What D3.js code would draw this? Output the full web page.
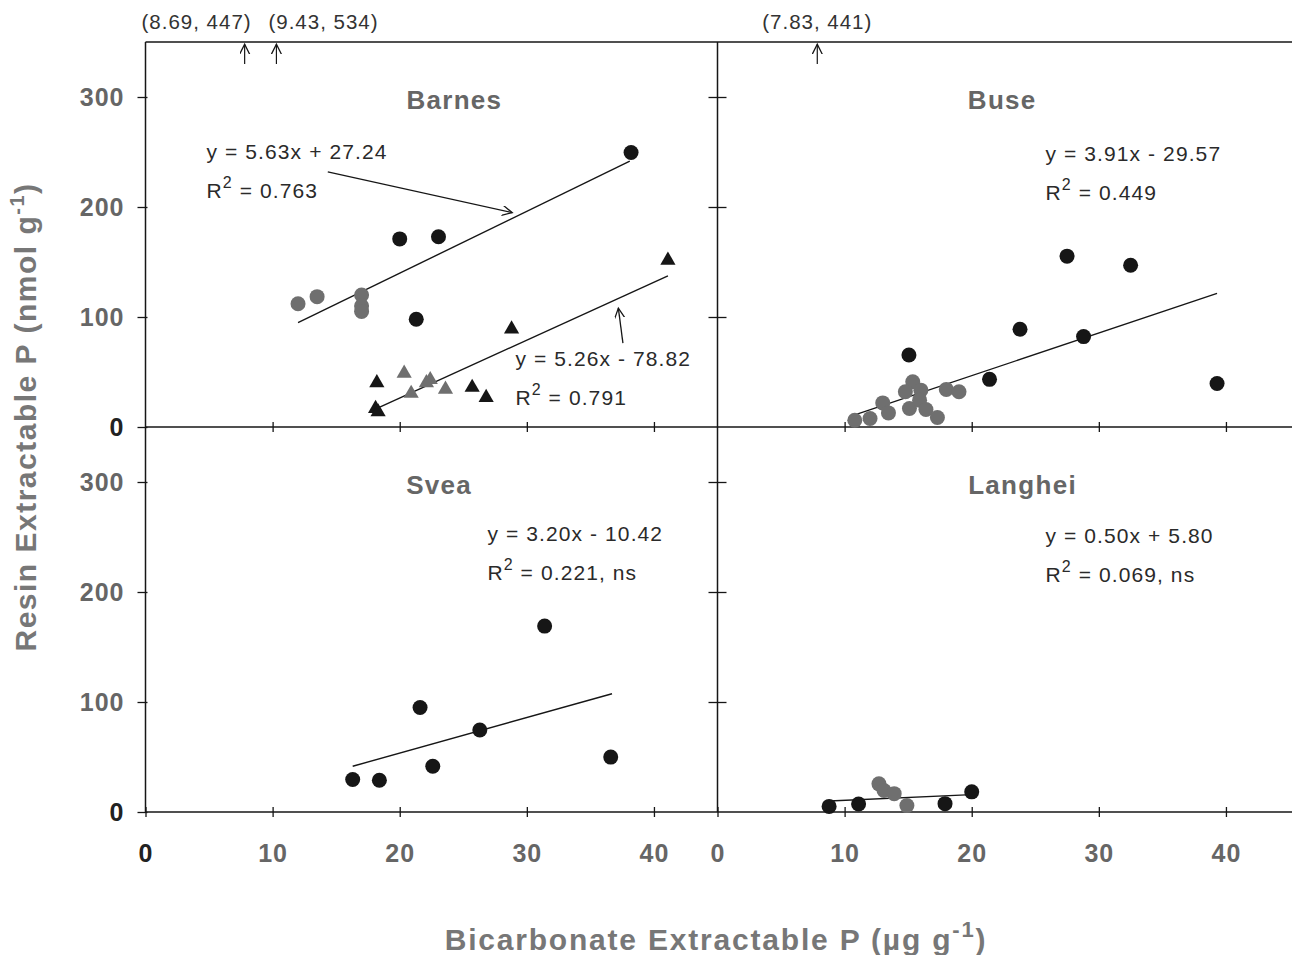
<!DOCTYPE html>
<html>
<head>
<meta charset="utf-8">
<script src="https://cdn.jsdelivr.net/npm/d3@7"></script>
<style>
  body { margin: 0; background: #fff; }
  svg { display: block; }
  text { font-family: "Liberation Sans", Arial, sans-serif; }
</style>
</head>
<body>
<div id="chart"></div>
<script>
// Ticks y nombres de paneles
const xTicks = [0, 10, 20, 30, 40];
const yTicks = [0, 100, 200, 300];
const panelNames = ["Barnes", "Buse", "Svea", "Langhei"];

// Barnes: circulos y triangulos (x = bicarbonato, y = resina)
const barnesCircGray = [[12.0, 112], [13.5, 118.5], [17.0, 120], [17.0, 110], [17.0, 105]];
const barnesCircBlack = [[20.0, 171], [23.05, 173], [21.3, 98], [38.2, 249.5]];
const barnesTriBlack = [[18.2, 40.2], [18.1, 16.8], [18.3, 13.7], [28.8, 89], [25.7, 36], [26.8, 26.8], [41.1, 151.6]];
const barnesTriGray = [[20.35, 48.8], [20.9, 30.5], [22.1, 40.2], [22.4, 43], [23.6, 34.2]];

// Buse
const buseBlack = [[15.06, 65.5], [21.4, 43.3], [23.8, 88.9], [27.5, 155.3], [32.5, 147], [28.8, 82.2], [39.3, 39.6]];
const buseGray = [[10.8, 6.1], [12.0, 7.7], [13.0, 21.9], [13.45, 12.8], [15.36, 41.1], [14.78, 32], [16.0, 33.5],
                  [15.1, 16.8], [15.9, 24.4], [16.4, 15.9], [17.3, 8.6], [18.0, 34.2], [19.0, 32]];

// Svea
const sveaBlack = [[16.3, 29.5], [18.4, 28.9], [21.6, 95], [22.6, 41.6], [26.3, 74.5], [31.4, 169], [36.6, 49.9]];

// Langhei
const langheiBlack = [[8.78, 5.1], [11.1, 7.3], [17.9, 7.6], [20.0, 18.3]];
const langheiGray = [[12.7, 25.6], [13.1, 19.5], [13.9, 16.7], [14.9, 5.8]];

// Rectas de regresion (extremos)
const barnesFitCirc = [[12.0, 94.8], [38.1, 241.7]];
const barnesFitTri = [[18.3, 17.4], [41.1, 137.4]];
const buseFit = [[10.8, 11], [39.3, 121.5]];
const sveaFit = [[16.3, 41.6], [36.7, 107.5]];
const langheiFit = [[8.8, 10], [20.0, 15.8]];

// Ecuaciones
const eqLines = ["y = 5.63x + 27.24", "y = 5.26x - 78.82", "y = 3.91x - 29.57", "y = 3.20x - 10.42", "y = 0.50x + 5.80"];
const r2Values = ["0.763", "0.791", "0.449", "0.221, ns", "0.069, ns"];

// Puntos fuera de escala (etiqueta y posicion x dibujada)
const offLabels = ["(8.69, 447)", "(9.43, 534)", "(7.83, 441)"];
const offPlotX = [7.8, 10.3, 7.85];
const offPanel = [0, 0, 1];

const WIDTH = 1292, HEIGHT = 955;
const cols = [[145.5, 717.5], [717.5, 1289.5]];
const rows = [[427, 42], [812, 427]];
const xScales = cols.map(r => d3.scaleLinear().domain([0, 45]).range(r));
const yScales = rows.map(r => d3.scaleLinear().domain([0, 350]).range(r));
const panels = panelNames.map((name, i) => ({ name, col: i % 2, row: Math.floor(i / 2) }));

const GRAY_TXT = "#666";
const BLACK = "#161616";
const GRAY_PT = "#6f6f6f";

const svg = d3.select("#chart").append("svg")
    .attr("width", WIDTH)
    .attr("height", HEIGHT);

svg.append("defs").append("marker")
    .attr("id", "head")
    .attr("markerUnits", "userSpaceOnUse")
    .attr("markerWidth", 12).attr("markerHeight", 12)
    .attr("refX", 10).attr("refY", 5)
    .attr("orient", "auto")
  .append("path")
    .attr("d", "M0,0L10,5L0,10")
    .attr("fill", "none")
    .attr("stroke", BLACK)
    .attr("stroke-width", 1.3);

// Marco
const frame = svg.append("g").attr("stroke", BLACK).attr("stroke-width", 1.5);
[yScales[0](350), yScales[0](0), yScales[1](0)].forEach(yy => {
    frame.append("line").attr("x1", xScales[0](0)).attr("x2", WIDTH).attr("y1", yy).attr("y2", yy);
});
[xScales[0](0), xScales[1](0)].forEach(xx => {
    frame.append("line").attr("x1", xx).attr("x2", xx).attr("y1", yScales[0](350)).attr("y2", yScales[1](0));
});

// Ejes de cada panel
panels.forEach(p => {
    const x = xScales[p.col], y = yScales[p.row];
    const g = svg.append("g");

    const ya = g.append("g")
        .attr("transform", `translate(${x(0)},0)`)
        .call(d3.axisLeft(y).tickValues(p.col === 0 ? yTicks : yTicks.slice(1)).tickSize(0)
            .tickFormat(p.col === 0 ? d3.format("d") : ""));
    ya.select(".domain").remove();
    ya.selectAll(".tick line")
        .attr("x1", p.col === 0 ? 2 : 9)
        .attr("x2", p.col === 0 ? -8 : -9)
        .attr("stroke", BLACK).attr("stroke-width", 1.3);
    ya.selectAll(".tick text")
        .attr("x", -21)
        .style("font-size", "25px")
        .style("font-weight", "bold")
        .style("letter-spacing", "1px")
        .style("fill", d => d === 0 ? "#222" : GRAY_TXT);

    const xa = g.append("g")
        .attr("transform", `translate(0,${y(0)})`)
        .call(d3.axisBottom(x).tickValues(p.row === 1 ? xTicks : xTicks.slice(1)).tickSize(0)
            .tickFormat(p.row === 1 ? d3.format("d") : ""));
    xa.select(".domain").remove();
    xa.selectAll(".tick line")
        .attr("y1", -5).attr("y2", 5)
        .attr("stroke", BLACK).attr("stroke-width", 1.3);
    xa.selectAll(".tick text")
        .attr("y", 50).attr("dy", 0)
        .style("font-size", "25px")
        .style("font-weight", "bold")
        .style("letter-spacing", "1px")
        .style("fill", d => (d === 0 && p.col === 0) ? "#222" : GRAY_TXT);
});

// Titulos de paneles
const titleX = [24.3, 22.4, 23.1, 24.0];
panels.forEach((p, i) => {
    svg.append("text")
        .attr("x", xScales[p.col](titleX[i]))
        .attr("y", yScales[p.row](289))
        .attr("text-anchor", "middle")
        .style("font-size", "26px")
        .style("font-weight", "bold")
        .style("letter-spacing", "1.3px")
        .style("fill", GRAY_TXT)
        .text(p.name);
});

// Puntos
function drawCircles(panel, data, color) {
    const p = panels[panel];
    svg.append("g").selectAll("circle")
        .data(data)
        .enter().append("circle")
        .attr("cx", d => xScales[p.col](d[0]))
        .attr("cy", d => yScales[p.row](d[1]))
        .attr("r", 7.5)
        .attr("fill", color);
}
function drawTriangles(panel, data, color) {
    const p = panels[panel];
    svg.append("g").selectAll("path")
        .data(data)
        .enter().append("path")
        .attr("d", d3.symbol().type(d3.symbolTriangle).size(100))
        .attr("transform", d => `translate(${xScales[p.col](d[0])},${yScales[p.row](d[1])})`)
        .attr("fill", color);
}
function drawFit(panel, pts) {
    const p = panels[panel];
    svg.append("path")
        .datum(pts)
        .attr("d", d3.line().x(d => xScales[p.col](d[0])).y(d => yScales[p.row](d[1])))
        .attr("fill", "none")
        .attr("stroke", BLACK)
        .attr("stroke-width", 1.4);
}

drawFit(0, barnesFitCirc);
drawFit(0, barnesFitTri);
drawFit(1, buseFit);
drawFit(2, sveaFit);
drawFit(3, langheiFit);

drawCircles(0, barnesCircGray, GRAY_PT);
drawCircles(0, barnesCircBlack, BLACK);
drawTriangles(0, barnesTriGray, GRAY_PT);
drawTriangles(0, barnesTriBlack, BLACK);
drawCircles(1, buseGray, GRAY_PT);
drawCircles(1, buseBlack, BLACK);
drawCircles(2, sveaBlack, BLACK);
drawCircles(3, langheiGray, GRAY_PT);
drawCircles(3, langheiBlack, BLACK);

// Ecuaciones
const eqPos = [
    { panel: 0, x: 4.8, y: 244 },
    { panel: 0, x: 29.1, y: 55.4 },
    { panel: 1, x: 25.8, y: 241.7 },
    { panel: 2, x: 26.9, y: 246 },
    { panel: 3, x: 25.8, y: 245 }
];
eqPos.forEach((e, i) => {
    const p = panels[e.panel];
    const ex = xScales[p.col](e.x), ey = yScales[p.row](e.y);
    const g = svg.append("g")
        .style("font-size", "21px")
        .style("letter-spacing", "1.1px")
        .style("fill", "#2a2a2a");
    g.append("text").attr("x", ex).attr("y", ey).text(eqLines[i]);
    const t = g.append("text").attr("x", ex).attr("y", ey + 39);
    t.append("tspan").text("R");
    t.append("tspan").attr("dy", -10).style("font-size", "16px").text("2");
    t.append("tspan").attr("dy", 10).text(" = " + r2Values[i]);
});

// Flechas de las ecuaciones en Barnes
const barnesArrows = [[[14.34, 232], [28.85, 194.9]], [[37.56, 76.2], [37.2, 108.1]]];
barnesArrows.forEach(a => {
    svg.append("line")
        .attr("x1", xScales[0](a[0][0])).attr("y1", yScales[0](a[0][1]))
        .attr("x2", xScales[0](a[1][0])).attr("y2", yScales[0](a[1][1]))
        .attr("stroke", BLACK).attr("stroke-width", 1.3)
        .attr("marker-end", "url(#head)");
});

// Puntos fuera de escala arriba
const offAnchor = ["end", "start", "middle"];
const offDx = [7, -8, 0];
offLabels.forEach((lab, i) => {
    const p = panels[offPanel[i]];
    const ax = xScales[p.col](offPlotX[i]);
    svg.append("line")
        .attr("x1", ax).attr("x2", ax)
        .attr("y1", yScales[p.row](330)).attr("y2", yScales[p.row](348))
        .attr("stroke", BLACK).attr("stroke-width", 1.2)
        .attr("marker-end", "url(#head)");
    svg.append("text")
        .attr("x", ax + offDx[i])
        .attr("y", 29)
        .attr("text-anchor", offAnchor[i])
        .style("font-size", "20.5px")
        .style("letter-spacing", "1px")
        .style("fill", "#333")
        .text(lab);
});

// Titulos de ejes
const yTitle = svg.append("text")
    .attr("transform", "translate(36,417) rotate(-90)")
    .attr("text-anchor", "middle")
    .style("font-size", "30px")
    .style("font-weight", "bold")
    .style("letter-spacing", "1.5px")
    .style("fill", "#777");
yTitle.append("tspan").text("Resin Extractable P (nmol g");
yTitle.append("tspan").attr("dy", -12).style("font-size", "20px").text("-1");
yTitle.append("tspan").attr("dy", 12).text(")");

const xTitle = svg.append("text")
    .attr("x", 716)
    .attr("y", 950)
    .attr("text-anchor", "middle")
    .style("font-size", "30px")
    .style("font-weight", "bold")
    .style("letter-spacing", "1.8px")
    .style("fill", "#777");
xTitle.append("tspan").text("Bicarbonate Extractable P (µg g");
xTitle.append("tspan").attr("dy", -13).style("font-size", "22px").text("-1");
xTitle.append("tspan").attr("dy", 13).text(")");
</script>
</body>
</html>
